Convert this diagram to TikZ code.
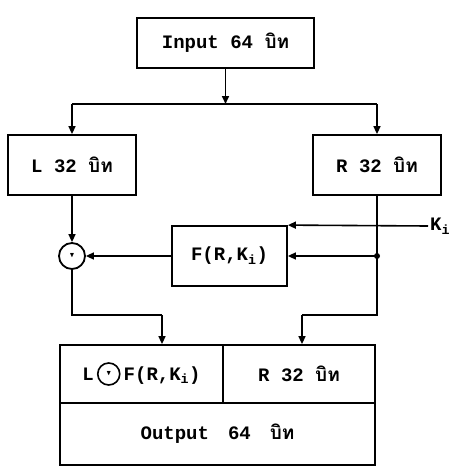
\documentclass[tikz,border=0pt]{standalone}
\usepackage{amssymb}
\usepackage{fontspec}
\setmonofont{Liberation Mono}
\newfontfamily\thai[Script=Thai]{Loma}
\usetikzlibrary{arrows.meta}

\tikzset{
  block/.style={draw, line width=1.8pt, inner sep=0pt, font=\ttfamily\bfseries\fontsize{19}{22}\selectfont},
  flow/.style={line width=1.6pt, -{Triangle[length=8pt,width=7pt]}},
  wire/.style={line width=1.6pt},
}
\newcommand{\xormark}{\scriptsize$\blacktriangledown$}

\begin{document}
\begin{tikzpicture}[x=1pt,y=-1pt]
\useasboundingbox (0,0) rectangle (458,469);
% blocks
\node[block, minimum width=177pt, minimum height=50pt] (input) at (225.5,43) {Input 64 {\thai\bfseries บิท}};
\node[block, minimum width=128pt, minimum height=60pt] (lbox) at (72,165) {L 32 {\thai\bfseries บิท}};
\node[block, minimum width=128pt, minimum height=60pt] (rbox) at (377,165) {R 32 {\thai\bfseries บิท}};
\node[block, minimum width=115pt, minimum height=60pt] (fbox) at (229.5,256) {F(R,K\textsubscript{i})};
\node[block, circle, minimum size=26pt] (xor) at (72,256) {\xormark};
\node[font=\ttfamily\bfseries\fontsize{19}{22}\selectfont, anchor=west, inner sep=2pt] (ki) at (428,226) {K\textsubscript{i}};
% output register
\node[block, minimum width=163pt, minimum height=58pt] (lf) at (141.5,374) {L\,\tikz[baseline=-0.6ex]\node[circle,draw,line width=1.6pt,minimum size=22pt,inner sep=0pt]{\xormark};\,F(R,K\textsubscript{i})};
\node[block, minimum width=152pt, minimum height=58pt] (rt) at (299,374) {R 32 {\thai\bfseries บิท}};
\node[block, minimum width=315pt, minimum height=62pt] (out) at (217.5,434) {Output\quad 64\quad {\thai\bfseries บิท}};

% split of the input
\coordinate (split) at (225.5,104);
\draw[flow] (input.south) -- (split);
\draw[wire] (lbox.north |- split) -- (rbox.north |- split);
\draw[flow] (lbox.north |- split) -- (lbox.north);
\draw[flow] (rbox.north |- split) -- (rbox.north);

% round function
\coordinate (tap) at (rbox.south |- fbox.east);
\coordinate (rdown) at (377,315);
\coordinate (bendR) at (302,315);
\coordinate (bendL) at (162,315);
\draw[flow] (lbox.south) -- (xor.north);
\draw[flow] (fbox.west) -- (xor.east);
\draw[flow] (ki.west) -- (fbox.north east);
\fill (tap) circle (3pt);
\draw[flow] (tap) -- (fbox.east);
\draw[wire] (rbox.south) -- (rdown) -- (bendR);
\draw[flow] (bendR) -- (bendR |- rt.north);
\draw[wire] (xor.south) |- (bendL);
\draw[flow] (bendL) -- (bendL |- lf.north);
\end{tikzpicture}
\end{document}
